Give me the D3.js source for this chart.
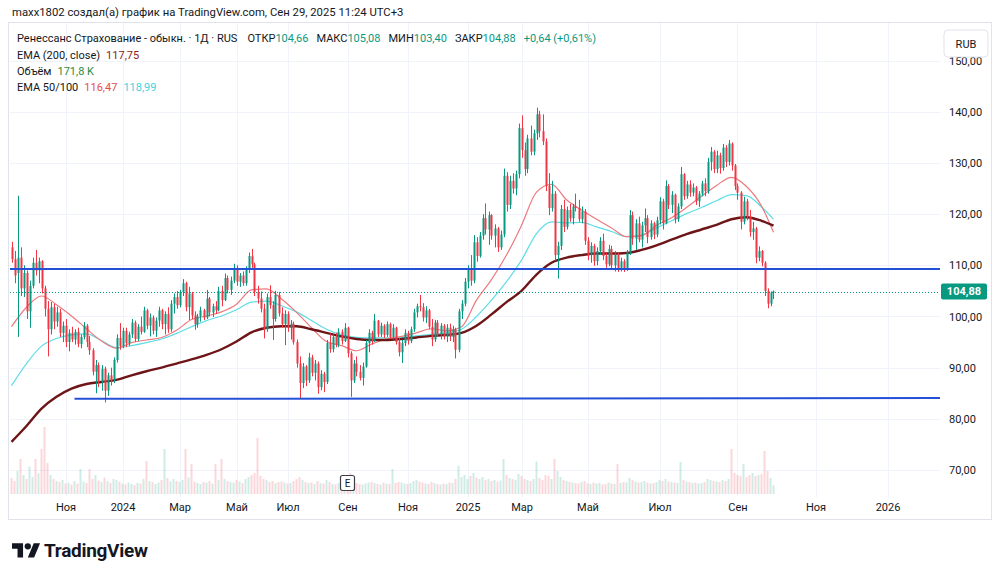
<!DOCTYPE html>
<html>
<head>
<meta charset="utf-8">
<script src="https://cdn.jsdelivr.net/npm/d3@7"></script>
<style>
  body { margin: 0; background: #fff; }
  svg { display: block; font-family: Roboto, "Noto Sans", sans-serif; }
</style>
</head>
<body>
<svg id="chart" width="1000" height="578"></svg>
<script>
"use strict";

// ---- data (one candle per slot) ----
var opens = [
  113.5,111.2,108.5,111.5,105.5,108.5,101.0,106.0,110.5,109.0,
  110.8,105.5,101.5,97.5,101.8,99.0,100.8,96.8,98.2,95.0,
  96.8,95.5,97.0,94.6,96.0,98.2,95.0,93.4,89.2,90.5,
  87.2,89.8,85.5,88.5,87.5,91.5,95.8,94.2,97.2,94.8,
  96.5,98.8,95.6,98.0,97.0,101.2,98.2,99.8,97.2,99.2,
  101.2,98.5,100.5,97.5,102.5,103.8,102.2,104.8,106.5,101.8,
  104.5,100.2,98.5,100.0,101.2,99.8,103.5,100.8,102.0,101.2,
  105.0,103.2,107.5,105.2,107.0,109.5,106.8,108.0,106.5,109.2,
  111.8,110.2,104.8,103.5,101.5,97.5,103.8,102.2,99.5,104.2,
  100.6,98.5,100.5,97.8,98.6,95.0,90.8,87.0,90.2,87.5,
  92.0,89.0,90.8,86.2,88.8,87.2,94.8,93.6,96.0,94.5,
  97.0,95.2,97.8,92.8,87.5,90.8,89.2,88.0,90.2,94.8,
  96.8,95.2,99.2,96.5,98.2,96.4,98.5,96.0,97.8,95.0,
  93.0,94.8,96.8,95.2,97.5,100.8,102.0,101.8,99.8,101.2,
  98.0,95.5,98.8,96.5,98.2,96.0,97.8,96.0,97.5,93.5,
  101.0,102.5,106.8,109.2,107.0,114.5,111.8,115.8,119.2,117.0,
  119.8,115.8,117.2,113.5,116.0,127.5,121.8,126.5,125.0,127.8,
  136.8,132.5,128.8,134.8,132.2,135.8,139.5,136.2,134.2,125.5,
  121.2,124.0,112.0,113.8,121.0,117.5,120.8,119.2,121.5,121.2,
  119.0,120.5,114.8,112.0,113.8,110.8,112.8,114.8,111.8,110.2,
  113.2,110.0,112.0,109.5,110.8,109.2,112.5,119.8,115.2,118.2,
  115.0,117.8,119.2,115.5,118.2,116.0,118.8,122.5,118.2,125.5,
  121.8,123.8,119.0,121.5,127.8,123.5,125.8,124.2,125.2,122.5,
  124.0,126.0,124.5,130.2,132.2,128.8,131.5,129.0,133.0,130.2,
  133.8,129.5,125.5,124.2,118.5,122.5,119.5,116.5,117.2,111.5,
  112.8,110.5,105.0,102.5,104.66
];
var highs = [
  114.6,112.8,123.6,113.5,110.0,109.0,107.0,111.5,113.0,111.5,
  111.0,106.0,103.0,102.8,102.5,101.9,101.5,99.0,99.5,97.5,
  98.0,97.5,97.8,96.5,98.9,98.5,96.2,93.8,91.5,91.0,
  90.5,90.2,89.0,90.0,92.0,96.5,98.7,97.8,97.8,97.0,
  99.5,99.2,98.5,100.0,101.9,101.5,100.6,100.2,99.8,101.9,
  101.5,101.0,101.8,103.2,104.5,105.0,105.2,107.3,106.8,105.8,
  104.8,101.0,100.5,101.9,101.5,105.2,103.8,102.5,103.0,105.8,
  106.0,108.4,108.0,107.8,110.3,110.0,108.5,108.8,109.8,112.5,
  113.2,110.5,106.0,104.9,102.5,104.5,106.1,103.0,105.0,104.8,
  101.8,101.2,101.0,99.3,99.0,95.5,92.2,90.9,90.5,92.9,
  92.5,91.5,91.2,89.5,89.2,95.4,96.7,96.5,96.8,97.7,
  97.5,98.7,98.0,93.2,91.5,92.2,90.5,91.0,95.4,97.5,
  97.2,100.5,99.3,98.8,98.5,99.0,98.8,98.5,98.0,95.8,
  95.4,97.5,97.2,98.0,101.5,102.5,104.2,102.6,102.0,101.5,
  99.5,99.3,99.3,98.7,98.5,98.5,98.6,98.2,97.8,101.5,
  103.2,107.5,110.0,112.0,115.9,115.5,116.5,120.0,122.1,120.5,
  120.0,118.0,117.5,116.8,128.9,128.2,127.5,128.0,128.5,137.7,
  139.3,134.0,135.5,137.3,136.5,140.8,140.2,139.5,134.8,128.0,
  126.5,124.5,114.6,121.8,122.8,121.5,122.0,122.0,124.0,122.8,
  121.5,121.0,115.5,114.5,114.2,113.5,115.5,116.2,112.5,114.0,
  113.8,112.8,112.5,111.5,111.2,113.0,120.8,120.5,119.0,119.5,
  118.5,121.1,119.8,118.8,118.5,119.5,123.3,123.0,126.6,125.9,
  124.5,124.0,122.1,129.2,128.0,126.5,126.6,126.0,125.5,124.5,
  126.5,127.0,131.0,133.1,132.5,132.4,132.0,133.7,133.5,134.5,
  134.0,129.8,126.0,124.5,123.4,123.0,120.8,118.5,117.5,113.7,
  113.0,110.8,105.5,104.9,105.08
];
var lows = [
  110.5,106.5,96.0,104.0,103.8,99.5,97.8,105.5,108.0,106.5,
  104.5,100.0,92.2,96.5,97.5,98.0,96.0,95.0,94.0,93.2,
  95.0,94.5,94.0,93.8,95.5,94.0,92.5,88.5,85.0,86.2,
  85.5,83.2,84.5,86.5,87.0,91.0,93.5,93.8,94.0,94.2,
  95.8,95.0,95.2,96.5,96.8,97.5,96.1,96.5,96.0,98.0,
  97.5,96.5,96.8,97.0,100.6,101.5,101.8,104.0,101.0,99.3,
  99.5,97.4,97.8,99.0,99.3,99.5,100.0,99.9,100.5,101.0,
  102.0,103.0,104.5,104.2,106.5,106.0,105.8,106.0,106.0,108.5,
  109.5,104.0,102.5,100.8,95.7,97.0,101.5,95.4,99.0,100.0,
  97.8,94.4,97.0,95.5,94.5,90.0,84.0,86.0,86.4,87.0,
  88.3,87.5,84.9,85.6,85.2,86.8,92.9,93.0,94.0,94.0,
  94.5,95.0,92.0,84.3,87.0,88.3,87.5,86.5,90.0,93.0,
  94.5,95.0,96.0,96.0,95.8,96.0,95.6,95.5,94.5,92.2,
  90.9,94.2,94.5,94.8,97.0,99.8,101.0,99.0,98.7,97.5,
  94.2,95.0,96.0,95.5,95.5,95.0,95.2,95.0,91.8,93.0,
  99.5,102.0,105.5,106.0,106.5,110.7,111.5,115.0,116.0,114.0,
  115.0,113.5,112.6,113.0,115.5,120.5,121.0,124.0,123.7,127.0,
  131.0,127.5,128.0,131.5,131.5,134.5,135.0,133.5,124.5,119.8,
  120.5,110.9,107.4,113.0,116.5,117.0,118.5,118.0,120.5,118.5,
  118.2,114.0,111.0,110.5,109.9,110.0,112.0,111.0,109.5,109.8,
  109.4,108.8,108.7,108.8,108.7,108.9,112.0,114.0,113.0,114.5,
  113.5,116.5,114.3,115.0,115.1,115.5,118.0,117.0,118.0,121.0,
  120.2,118.2,118.5,121.0,122.8,123.0,123.4,123.5,121.8,121.4,
  123.5,123.5,124.0,128.5,128.0,128.0,127.9,128.5,129.2,129.5,
  128.5,124.7,122.8,117.0,118.0,118.8,115.6,115.0,110.4,110.8,
  109.8,104.0,101.6,102.0,103.40
];
var closes = [
  111.2,108.0,111.5,105.5,108.5,101.0,106.0,110.5,109.0,110.8,
  105.5,101.5,97.5,101.8,99.0,100.8,96.8,98.2,95.0,96.8,
  95.5,97.0,94.6,96.0,98.2,95.0,93.4,89.2,90.5,87.2,
  89.8,85.5,88.5,87.5,91.5,95.8,94.2,97.2,94.8,96.5,
  98.8,95.6,98.0,97.0,101.2,98.2,99.8,97.2,99.2,101.2,
  98.5,100.5,97.5,102.5,103.8,102.2,104.8,106.5,101.8,104.5,
  100.2,98.5,100.0,101.2,99.8,103.5,100.8,102.0,101.2,105.0,
  103.2,107.5,105.2,107.0,109.5,106.8,108.0,106.5,109.2,111.8,
  110.2,104.8,103.5,101.5,97.5,103.8,102.2,99.5,104.2,100.6,
  98.5,100.5,97.8,98.6,95.0,90.8,87.0,90.2,87.5,92.0,
  89.0,90.8,86.2,88.8,87.2,94.8,93.6,96.0,94.5,97.0,
  95.2,97.8,92.8,87.5,90.8,89.2,88.0,90.2,94.8,96.8,
  95.2,99.2,96.5,98.2,96.4,98.5,96.0,97.8,95.0,93.0,
  94.8,96.8,95.2,97.5,100.8,102.0,101.8,99.8,101.2,98.0,
  95.5,98.8,96.5,98.2,96.0,97.8,96.0,97.5,93.5,101.0,
  102.5,106.8,109.2,107.0,114.5,111.8,115.8,119.2,117.0,119.8,
  115.8,117.2,113.5,116.0,127.5,121.8,126.5,125.0,127.8,136.8,
  132.5,128.8,134.8,132.2,135.8,139.5,136.2,134.2,125.5,121.2,
  124.0,112.0,113.8,121.0,117.5,120.8,119.2,121.5,121.2,119.0,
  120.5,114.8,112.0,113.8,110.8,112.8,114.8,111.8,110.2,113.2,
  110.0,112.0,109.5,110.8,109.2,112.5,119.8,115.2,118.2,115.0,
  117.8,119.2,115.5,118.2,116.0,118.8,122.5,118.2,125.5,121.8,
  123.8,119.0,121.5,127.8,123.5,125.8,124.2,125.2,122.5,124.0,
  126.0,124.5,130.2,132.2,128.8,131.5,129.0,133.0,130.2,133.8,
  129.5,125.5,124.2,118.5,122.5,119.5,116.5,117.2,111.5,112.8,
  110.5,105.0,102.5,104.66,104.88
];
// volume, thousands of shares
var volumes = [
  320,260,460,700,380,300,550,340,700,410,
  900,1340,620,380,300,260,240,280,210,230,
  190,260,210,500,250,220,500,300,380,270,
  240,330,260,220,300,280,250,210,190,230,
  200,180,220,210,300,660,260,240,200,230,
  280,900,320,250,300,260,240,280,900,330,
  600,250,220,200,240,230,260,210,600,280,
  700,300,260,240,230,280,250,220,300,340,
  380,420,1120,360,300,280,240,260,220,240,
  250,230,210,220,260,300,340,280,240,220,
  230,200,260,220,210,280,240,200,190,220,
  210,230,300,420,260,220,200,190,210,230,
  240,220,200,190,230,210,200,500,220,240,
  230,210,200,220,260,280,250,230,210,200,
  240,220,200,190,210,200,230,220,300,560,
  340,380,300,360,420,330,300,340,280,300,
  260,280,250,270,700,380,320,300,280,400,
  360,300,280,260,300,650,320,280,380,360,
  300,700,460,340,280,260,240,230,220,210,
  240,260,220,200,230,210,220,190,200,230,
  210,200,600,220,240,230,320,280,250,230,
  240,260,230,210,220,240,280,260,300,250,
  240,230,220,640,280,250,240,220,230,210,
  220,240,300,280,260,250,240,280,260,300,
  900,420,380,360,600,340,380,420,360,380,
  400,860,460,320,171.8
];

// EMA values sampled at these candle slots
var emaIdx = [0,5,10,15,20,25,30,35,40,45,50,55,60,65,70,75,80,85,90,95,100,
  105,110,115,120,125,130,135,140,145,150,155,160,165,170,175,180,185,190,195,200,
  205,210,215,220,225,230,235,240,245,250,254];
var ema200 = [75.5,78.6,82.0,84.3,85.9,86.8,87.2,87.6,88.5,89.3,90.0,90.8,91.6,92.5,93.6,95.1,96.9,97.8,98.1,98.1,97.5,
  96.8,96.1,95.6,95.4,95.4,95.6,95.9,96.2,96.4,96.8,98.2,100.4,102.8,105.0,108.2,110.5,111.5,112.0,112.3,112.3,
  112.4,113.0,113.9,115.0,116.1,117.0,117.9,119.0,119.4,118.7,117.75];
var ema50 = [98.0,101.8,104.0,102.3,100.1,97.6,95.2,93.8,94.9,95.4,95.9,97.3,99.4,100.1,100.9,102.4,105.2,105.4,103.4,100.8,97.8,
  95.1,94.3,93.3,94.6,95.6,96.1,96.8,97.6,97.2,98.0,103.2,107.2,112.0,117.8,124.3,125.8,122.8,120.8,119.0,117.3,
  115.6,115.8,117.8,119.3,121.3,123.5,125.6,127.2,125.4,121.6,116.47];
var ema100 = [86.5,90.8,94.2,95.7,96.4,96.6,95.3,93.9,94.3,94.9,95.6,96.7,98.0,99.2,100.1,101.3,102.8,103.0,102.1,100.9,99.2,
  97.5,96.4,95.9,95.8,95.8,95.9,96.2,96.5,96.8,97.5,100.0,103.2,106.8,111.0,116.2,118.5,118.3,118.4,117.5,116.6,
  115.6,115.9,117.3,118.7,120.1,121.3,122.6,123.8,123.6,121.4,118.99];

// axis ticks
var monthIdx = [18,37,56,75,92,112,132,152,170,192,216,242,268,292];
var monthLabels = ["Ноя","2024","Мар","Май","Июл","Сен","Ноя","2025","Мар","Май","Июл","Сен","Ноя","2026"];
var priceTicks = [70,80,90,100,110,120,130,140,150];

// user drawn levels: [slotFrom, priceFrom, slotTo, priceTo]
var levelLines = [[-0.5,109.28,309.5,109.28],[21,83.9,309.5,84.05]];
var lastPrice = 104.88;
var earningsIdx = 112;

// ---- layout ----
var plot = {left: 10, right: 940, top: 23, bottom: 497};
var svg = d3.select("#chart");
var nSlots = 310;

var x = d3.scaleLinear().domain([-0.5, nSlots - 0.5]).range([plot.left, plot.right]);
var y = d3.scaleLinear().domain([70, 150]).range([470, 60.6]);
var yVol = d3.scaleLinear().domain([0, 2000]).range([494, 394]);
var fmt = function(v) { return d3.format(".2f")(v).replace(".", ","); };

var UP = "#089981", DOWN = "#f23645";

svg.append("rect").attr("width", 1000).attr("height", 578).attr("fill", "#fff");

// header
svg.append("text").attr("x", 12).attr("y", 16)
  .attr("font-size", 11.3).attr("fill", "#131722")
  .text("maxx1802 создал(а) график на TradingView.com, Сен 29, 2025 11:24 UTC+3");

// frame
svg.append("rect")
  .attr("x", 8.5).attr("y", 22.5).attr("width", 983).attr("height", 497)
  .attr("fill", "none").attr("stroke", "#e0e3eb");

svg.append("defs").append("clipPath").attr("id", "plotClip")
  .append("rect").attr("x", plot.left).attr("y", plot.top)
  .attr("width", plot.right - plot.left).attr("height", plot.bottom - plot.top);

// grid
var grid = svg.append("g").attr("stroke", "#f0f3fa").attr("stroke-width", 1);
grid.selectAll(".hg").data(priceTicks).enter().append("line")
  .attr("x1", plot.left).attr("x2", plot.right)
  .attr("y1", function(d) { return Math.round(y(d)) + 0.5; })
  .attr("y2", function(d) { return Math.round(y(d)) + 0.5; });
grid.selectAll(".vg").data(monthIdx).enter().append("line")
  .attr("y1", plot.top).attr("y2", plot.bottom)
  .attr("x1", function(d) { return Math.round(x(d)) + 0.5; })
  .attr("x2", function(d) { return Math.round(x(d)) + 0.5; });

var pane = svg.append("g").attr("clip-path", "url(#plotClip)");

// volume
pane.append("g").selectAll("rect").data(volumes).enter().append("rect")
  .attr("x", function(d, i) { return x(i) - 1; })
  .attr("width", 2)
  .attr("y", function(d) { return yVol(d); })
  .attr("height", function(d) { return yVol(0) - yVol(d); })
  .attr("fill", function(d, i) { return closes[i] >= opens[i] ? UP : DOWN; })
  .attr("fill-opacity", 0.2);

// EMAs
var emaLine = d3.line()
  .x(function(d) { return x(d[0]); })
  .y(function(d) { return y(d[1]); })
  .curve(d3.curveMonotoneX);
function emaPoints(vals) { return emaIdx.map(function(k, j) { return [k, vals[j]]; }); }

pane.append("path").attr("d", emaLine(emaPoints(ema100)))
  .attr("fill", "none").attr("stroke", "#5fdde6").attr("stroke-width", 1.2);
pane.append("path").attr("d", emaLine(emaPoints(ema50)))
  .attr("fill", "none").attr("stroke", "#ec7a7f").attr("stroke-width", 1.2);
pane.append("path").attr("d", emaLine(emaPoints(ema200)))
  .attr("fill", "none").attr("stroke", "#6e1518").attr("stroke-width", 2.4);

// candles
var candle = pane.append("g").selectAll("g").data(closes).enter().append("g")
  .attr("fill", function(d, i) { return d >= opens[i] ? UP : DOWN; })
  .attr("stroke", function(d, i) { return d >= opens[i] ? UP : DOWN; });
candle.append("line")
  .attr("x1", function(d, i) { return Math.round(x(i)) + 0.5; })
  .attr("x2", function(d, i) { return Math.round(x(i)) + 0.5; })
  .attr("y1", function(d, i) { return y(highs[i]); })
  .attr("y2", function(d, i) { return y(lows[i]); })
  .attr("stroke-width", 1);
candle.append("rect")
  .attr("stroke", "none")
  .attr("x", function(d, i) { return Math.round(x(i)) - 0.5; })
  .attr("width", 2)
  .attr("y", function(d, i) { return y(Math.max(d, opens[i])); })
  .attr("height", function(d, i) { return Math.max(1, Math.abs(y(d) - y(opens[i]))); });

// drawn levels
pane.append("g").selectAll("line").data(levelLines).enter().append("line")
  .attr("x1", function(d) { return x(d[0]); })
  .attr("y1", function(d) { return y(d[1]); })
  .attr("x2", function(d) { return x(d[2]); })
  .attr("y2", function(d) { return y(d[3]); })
  .attr("stroke", "#2450d8").attr("stroke-width", 2);

// last price line
pane.append("line")
  .attr("x1", plot.left).attr("x2", plot.right)
  .attr("y1", Math.round(y(lastPrice)) + 0.5).attr("y2", Math.round(y(lastPrice)) + 0.5)
  .attr("stroke", UP).attr("stroke-width", 1).attr("stroke-dasharray", "1,2");

// earnings marker
var ev = svg.append("g").attr("transform", "translate(" + x(earningsIdx) + ",483)");
ev.append("rect").attr("x", -7).attr("y", -7.5).attr("width", 14).attr("height", 15).attr("rx", 2)
  .attr("fill", "#fff").attr("stroke", "#3b3e47").attr("stroke-width", 1.2);
ev.append("text").attr("text-anchor", "middle").attr("dy", "0.35em")
  .attr("font-size", 10).attr("fill", "#131722").text("E");

// price axis
var yAxis = svg.append("g").attr("transform", "translate(" + plot.right + ",0)")
  .call(d3.axisRight(y).tickValues(priceTicks).tickFormat(fmt).tickSize(0).tickPadding(9));
yAxis.select(".domain").remove();
yAxis.selectAll("text").attr("font-size", 11).attr("fill", "#131722")
  .attr("font-family", "Roboto, sans-serif");

// time axis
var xAxis = svg.append("g").attr("transform", "translate(0," + plot.bottom + ")")
  .call(d3.axisBottom(x).tickValues(monthIdx)
    .tickFormat(function(d, i) { return monthLabels[i]; }).tickSize(0).tickPadding(6));
xAxis.select(".domain").remove();
xAxis.selectAll("text").attr("font-size", 11).attr("fill", "#131722")
  .attr("font-family", "Roboto, sans-serif");

// last price label
var pl = svg.append("g").attr("transform", "translate(" + plot.right + "," + y(lastPrice) + ")");
pl.append("rect").attr("x", 1).attr("y", -8).attr("width", 46).attr("height", 16).attr("rx", 2).attr("fill", UP);
pl.append("text").attr("x", 24).attr("dy", "0.35em").attr("text-anchor", "middle")
  .attr("font-size", 11).attr("font-weight", "bold").attr("fill", "#fff").text(fmt(lastPrice));

// currency button
var cur = svg.append("g").attr("transform", "translate(944,30)");
cur.append("rect").attr("width", 44).attr("height", 27).attr("rx", 4)
  .attr("fill", "#fff").attr("stroke", "#e0e3eb");
cur.append("text").attr("x", 22).attr("y", 14).attr("dy", "0.35em").attr("text-anchor", "middle")
  .attr("font-size", 11).attr("fill", "#131722").text("RUB");

// legend
var legend = svg.append("g").attr("font-size", 11).attr("fill", "#131722");
var l1 = legend.append("text").attr("x", 17).attr("y", 42);
l1.append("tspan").text("Ренессанс Страхование - обыкн. · 1Д · RUS");
[["ОТКР", opens[opens.length - 1]], ["МАКС", highs[highs.length - 1]],
 ["МИН", lows[lows.length - 1]], ["ЗАКР", closes[closes.length - 1]]].forEach(function(p, k) {
  l1.append("tspan").attr("dx", k === 0 ? 10 : 8).text(p[0]);
  l1.append("tspan").attr("fill", UP).text(fmt(p[1]));
});
l1.append("tspan").attr("dx", 8).attr("fill", UP).text("+0,64 (+0,61%)");

var l2 = legend.append("text").attr("x", 17).attr("y", 59);
l2.append("tspan").text("EMA (200, close)");
l2.append("tspan").attr("dx", 6).attr("fill", "#8b1c22").text(fmt(ema200[ema200.length - 1]));

var l3 = legend.append("text").attr("x", 17).attr("y", 75);
l3.append("tspan").text("Объём");
l3.append("tspan").attr("dx", 6).attr("fill", "#2e8b3e").text("171,8 K");

var l4 = legend.append("text").attr("x", 17).attr("y", 91);
l4.append("tspan").text("EMA 50/100");
l4.append("tspan").attr("dx", 6).attr("fill", "#e84b4b").text(fmt(ema50[ema50.length - 1]));
l4.append("tspan").attr("dx", 6).attr("fill", "#3fd3e0").text(fmt(ema100[ema100.length - 1]));

// TradingView logo
var logo = svg.append("g").attr("fill", "#131722");
logo.append("g").attr("transform", "translate(12,540) scale(0.79)")
  .call(function(g) {
    g.append("path").attr("d", "M14 22H7V11H0V4h14v18zM28 22h-8l7.5-18h8L28 22z");
    g.append("circle").attr("cx", 20).attr("cy", 8).attr("r", 4);
  });
logo.append("text").attr("x", 44).attr("y", 557)
  .attr("font-size", 19).attr("font-weight", "bold").attr("letter-spacing", -0.3)
  .text("TradingView");
</script>
</body>
</html>
